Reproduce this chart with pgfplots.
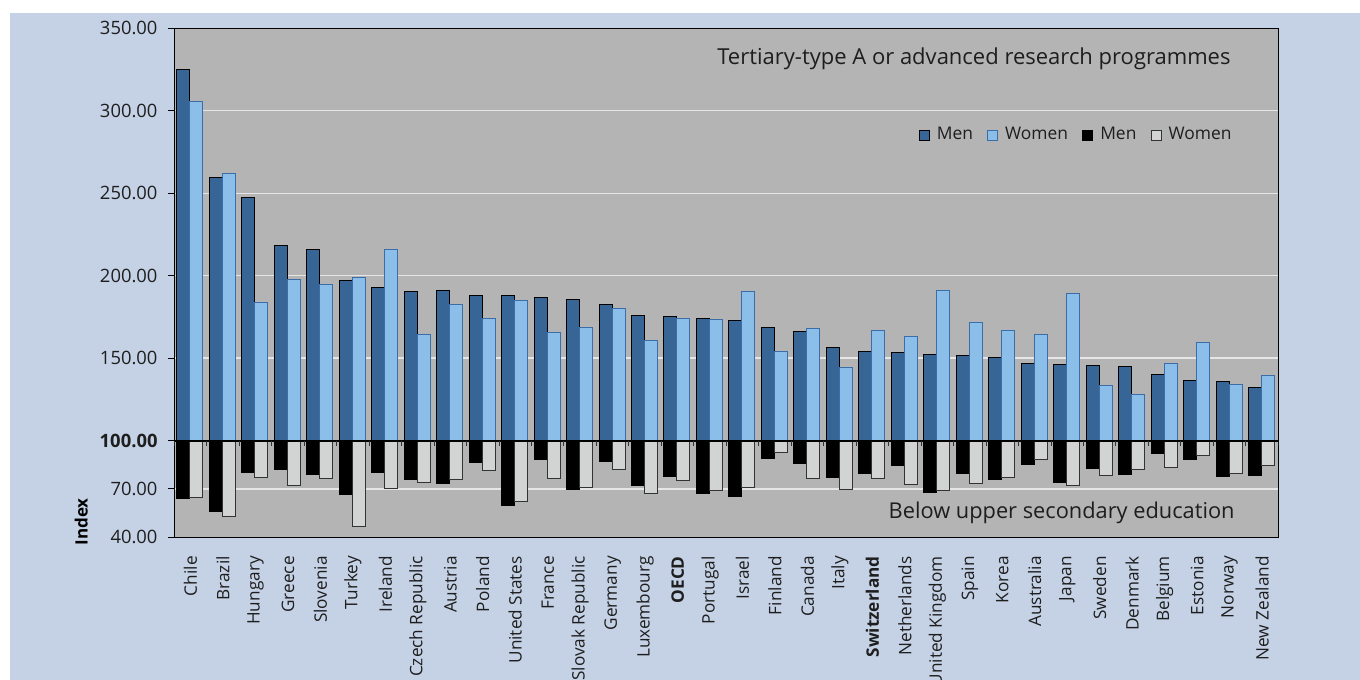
\documentclass[border=0pt]{standalone}
\usepackage{fontspec}
\setmainfont{Open Sans}
\usepackage{pgfplots}
\pgfplotsset{compat=1.18}
\usepackage{pgfplotstable}

\definecolor{pagebg}{HTML}{C5D2E6}
\definecolor{plotbg}{HTML}{B3B4B3}
\definecolor{menhi}{HTML}{376595}
\definecolor{womenhi}{HTML}{8BBFE9}
\definecolor{womenhiedge}{HTML}{3B6EA8}
\definecolor{womenlo}{HTML}{D2D3D3}
\definecolor{inktext}{HTML}{1E1E1E}
\definecolor{gridline}{HTML}{E6E6E6}

% k: position on the axis
% mhi, whi: tertiary-type A or advanced research programmes (men, women)
% mlo, wlo: below upper secondary education (men, women)
\pgfplotstableread{
k   mhi    whi    mlo   wlo
0   324.9  305.9  63.8  64.6
1   259.5  262.1  56.1  53.0
2   247.6  184.0  79.9  77.4
3   218.2  197.4  82.2  72.0
4   215.6  194.9  79.1  76.2
5   197.0  198.8  66.7  46.4
6   192.6  215.6  79.9  70.4
7   190.7  164.2  75.8  73.9
8   191.0  182.3  73.6  75.8
9   188.2  174.3  86.1  81.2
10  187.9  184.8  60.0  61.9
11  187.0  165.4  88.2  76.4
12  185.6  168.8  69.8  70.8
13  182.8  180.3  87.2  82.0
14  175.7  160.5  72.2  67.1
15  175.1  174.1  77.8  75.0
16  174.3  173.7  67.3  68.9
17  172.7  190.1  65.4  70.6
18  168.8  153.9  89.0  92.4
19  166.0  167.8  85.9  76.2
20  156.7  144.5  77.0  69.4
21  154.2  167.0  79.7  76.2
22  153.4  163.0  84.5  72.9
23  152.4  190.9  67.7  68.9
24  151.8  171.4  79.7  73.5
25  150.4  167.0  75.6  76.8
26  146.8  164.4  85.1  88.4
27  146.3  189.4  73.9  72.0
28  145.5  133.6  82.6  78.3
29  144.9  127.9  78.9  81.8
30  139.9  146.9  91.7  83.4
31  136.4  159.5  88.4  90.5
32  135.6  134.0  77.8  79.7
33  132.0  139.6  78.4  84.3
}\indexdata

\begin{document}
\begin{tikzpicture}
\useasboundingbox (0pt,0pt) rectangle (680pt,340pt);
\clip (0pt,0pt) rectangle (680pt,340pt);
\fill[white] (0pt,0pt) rectangle (680pt,340pt);
\fill[pagebg] (5pt,0pt) rectangle (680pt,333.65pt);

% Bars grow from the index base of 100; the part below 100 is drawn on a
% slightly tighter scale (factor 0.9775) than the part above it.
\begin{axis}[
  at={(87.15pt,71.35pt)}, anchor=south west,
  scale only axis, width=552pt, height=254.5pt,
  xmin=-0.5, xmax=33.5, ymin=-58.65, ymax=250,
  axis background/.style={fill=plotbg},
  axis line style={black, line width=0.6pt},
  ytick={-58.65,-29.325,0,50,100,150,200,250},
  yticklabels={40.00,70.00,\textbf{100.00},150.00,200.00,250.00,300.00,350.00},
  tick align=outside, major tick length=3pt,
  ytick pos=left,
  y tick style={black, line width=0.5pt},
  yticklabel style={font=\fontsize{9.2}{11}\selectfont, text=inktext, inner sep=0pt},
  yticklabel shift=5.2pt,
  ymajorgrids, grid style={gridline, line width=0.7pt},
  xtick={0,...,33},
  xticklabels={Chile,Brazil,Hungary,Greece,Slovenia,Turkey,Ireland,Czech Republic,Austria,Poland,United States,France,Slovak Republic,Germany,Luxembourg,\textbf{OECD},Portugal,Israel,Finland,Canada,Italy,\textbf{Switzerland},Netherlands,United Kingdom,Spain,Korea,Australia,Japan,Sweden,Denmark,Belgium,Estonia,Norway,New Zealand},
  x tick style={draw=none},
  xticklabel style={rotate=90, anchor=east, inner sep=0pt, font=\fontsize{8.6}{10}\selectfont, text=inktext},
  xticklabel shift=6.3pt,
  legend columns=4,
  legend image code/.code={
    \draw[#1, line width=0.5pt] (0pt,-2.45pt) rectangle (4.9pt,2.45pt);
    \path (8.4pt,0pt);},
  legend style={at={(0.958,0.790)}, anchor=east, draw=none, fill=none, inner sep=0pt,
    font=\fontsize{8.7}{10}\selectfont, text=inktext,
    nodes={inner sep=0pt},
    /tikz/every even column/.append style={column sep=7.2pt}},
]
\addplot[ybar, bar width=6.5pt, bar shift=-3.55pt, fill=menhi, draw=black, line width=0.5pt]
  table[x=k, y expr=\thisrow{mhi}-100] {\indexdata};
\addlegendentry{Men}
\addplot[ybar, bar width=6.5pt, bar shift=2.95pt, fill=womenhi, draw=womenhiedge, line width=0.5pt]
  table[x=k, y expr=\thisrow{whi}-100] {\indexdata};
\addlegendentry{Women}
\addplot[ybar, bar width=6.5pt, bar shift=-3.55pt, fill=black, draw=black, line width=0.5pt]
  table[x=k, y expr=(\thisrow{mlo}-100)*0.9775] {\indexdata};
\addlegendentry{Men}
\addplot[ybar, bar width=6.5pt, bar shift=2.95pt, fill=womenlo, draw=black!80, line width=0.5pt]
  table[x=k, y expr=(\thisrow{wlo}-100)*0.9775] {\indexdata};
\addlegendentry{Women}

% base line at index 100 with short ticks between the countries
\draw[black, line width=1pt] (axis cs:-0.5,0) -- (axis cs:33.5,0);
\pgfplotsinvokeforeach{-0.5,0.5,...,33.5}{
  \draw[black!80, line width=0.5pt] (axis cs:#1,0) -- ++(0pt,-2.5pt);
}
\end{axis}

\node[anchor=east, inner sep=0pt, font=\fontsize{11}{13}\selectfont, text=inktext]
  at (615.5pt,310.85pt) {Tertiary-type A or advanced research programmes};
\node[anchor=east, inner sep=0pt, font=\fontsize{10.9}{13}\selectfont, text=inktext]
  at (617.5pt,83.35pt) {Below upper secondary education};
\node[rotate=90, inner sep=0pt, font=\bfseries\fontsize{8.5}{10}\selectfont, text=black]
  at (40.6pt,79pt) {Index};
\end{tikzpicture}
\end{document}
